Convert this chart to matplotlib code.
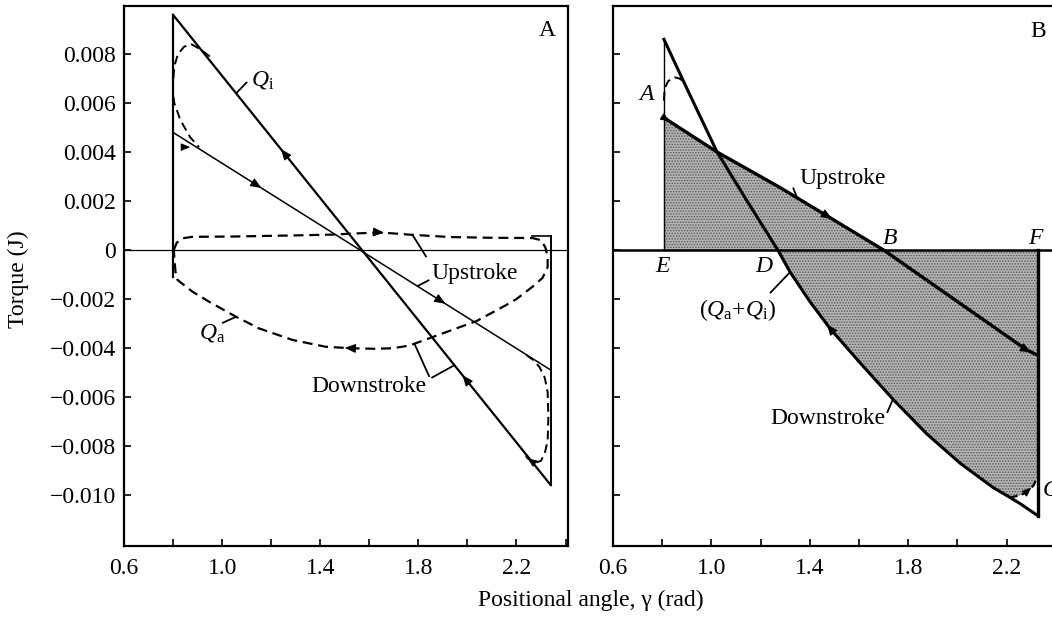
import numpy as np
import matplotlib
matplotlib.use('Agg')
import matplotlib.pyplot as plt
from matplotlib.ticker import FixedLocator, FixedFormatter

plt.rcParams['font.family'] = ['Liberation Serif', 'DejaVu Serif']
plt.rcParams['mathtext.fontset'] = 'custom'
plt.rcParams['mathtext.rm'] = 'Liberation Serif'
plt.rcParams['mathtext.it'] = 'Liberation Serif:italic'
plt.rcParams['hatch.linewidth'] = 0.7

# ---------------- data : panel A ----------------
qi_gamma = [0.80, 2.34]
qi_torque = [0.0096, -0.0096]
up_gamma = [0.80, 2.34]
up_torque = [0.0048, -0.0049]
qa_up_gamma = [0.803, 0.815, 0.84, 0.879, 1.04, 1.314, 1.449, 1.64, 1.776, 1.93, 2.10, 2.265, 2.30, 2.318, 2.327, 2.327]
qa_up_torque = [0.0, 0.0003, 0.00048, 0.00054, 0.00055, 0.0006, 0.00063, 0.00072, 0.00062, 0.00053, 0.0005, 0.00049, 0.0004, 0.0001, -0.0003, -0.0007]
qa_dn_gamma = [0.803, 0.806, 0.81, 0.818, 0.879, 0.947, 1.056, 1.151, 1.287, 1.423, 1.532, 1.62, 1.695, 1.763, 1.927, 2.037, 2.159, 2.20, 2.265, 2.306, 2.327]
qa_dn_torque = [0.0, -0.0004, -0.0009, -0.00122, -0.0017, -0.00211, -0.00272, -0.0032, -0.00367, -0.00395, -0.00401, -0.00403, -0.00401, -0.0039, -0.0033, -0.0029, -0.00224, -0.0020, -0.0015, -0.00114, -0.0007]
rev1_gamma = [0.95, 0.91, 0.875, 0.845, 0.82, 0.805, 0.80, 0.80, 0.805, 0.83, 0.87, 0.906]
rev1_torque = [0.0079, 0.0082, 0.0084, 0.0083, 0.0080, 0.0075, 0.0068, 0.0064, 0.0060, 0.0053, 0.0046, 0.0042]
rev2_gamma = [2.241, 2.27, 2.294, 2.315, 2.327, 2.33, 2.327, 2.315, 2.30, 2.273, 2.245, 2.224]
rev2_torque = [-0.00429, -0.0045, -0.00478, -0.0052, -0.0058, -0.0068, -0.0078, -0.0083, -0.0086, -0.0087, -0.0085, -0.00815]
left_bar_torque = [-0.0011, 0.0096]
right_bar_torque = [-0.0096, 0.00057]

# ---------------- data : panel B ----------------
dn_b_gamma = [0.807, 0.90, 1.023, 1.145, 1.27, 1.32, 1.40, 1.482, 1.604, 1.739, 1.875, 2.011, 2.146, 2.214, 2.255, 2.328]
dn_b_torque = [0.0086, 0.0066, 0.0040, 0.0020, 0.0, -0.0009, -0.0021, -0.0032, -0.0046, -0.0061, -0.0075, -0.0087, -0.0097, -0.0101, -0.01035, -0.01085]
up_b_gamma = [0.807, 1.023, 1.279, 1.70, 2.011, 2.282, 2.328]
up_b_torque = [0.0054, 0.0040, 0.00255, 0.0, -0.00218, -0.00408, -0.0043]
corner_gamma = [2.214, 2.26, 2.29, 2.31, 2.324]
corner_torque = [-0.0101, -0.0100, -0.0098, -0.0096, -0.0093]
loopB_gamma = [0.807, 0.81, 0.825, 0.85, 0.87, 0.885]
loopB_torque = [0.0061, 0.0066, 0.0069, 0.00705, 0.0070, 0.0069]

xticks = [0.6, 0.8, 1.0, 1.2, 1.4, 1.6, 1.8, 2.0, 2.2, 2.4]
xticklabels = ['0.6', '', '1.0', '', '1.4', '', '1.8', '', '2.2', '']
yticks = [-0.010, -0.008, -0.006, -0.004, -0.002, 0.0, 0.002, 0.004, 0.006, 0.008]
yticklabels = ['\u22120.010', '\u22120.008', '\u22120.006', '\u22120.004', '\u22120.002', '0',
               '0.002', '0.004', '0.006', '0.008']

W, H = 1052, 617
FS = 17
fig = plt.figure(figsize=(W / 100, H / 100), dpi=100)
bottom = 1 - 546 / H
height = (546 - 6) / H
axA = fig.add_axes([124 / W, bottom, (568 - 124) / W, height])
axB = fig.add_axes([613 / W, bottom, 442.8 / W, height])


def style(ax, labels):
    ax.set_ylim(-0.01208, 0.00996)
    ax.xaxis.set_major_locator(FixedLocator(xticks))
    ax.xaxis.set_major_formatter(FixedFormatter(xticklabels))
    ax.yaxis.set_major_locator(FixedLocator(yticks))
    if labels:
        ax.yaxis.set_major_formatter(FixedFormatter(yticklabels))
    else:
        ax.yaxis.set_major_formatter(FixedFormatter([''] * len(yticks)))
    ax.tick_params(direction='in', length=5, width=1.2, labelsize=FS)
    ax.tick_params(axis='x', pad=9)
    ax.tick_params(axis='y', pad=6)
    for s in ax.spines.values():
        s.set_linewidth(1.6)


def arrow(ax, xs, ys, g, reverse=False, d=0.02, ms=11):
    y1 = np.interp(g, xs, ys)
    if reverse:
        p0 = (g + d, np.interp(g + d, xs, ys))
    else:
        p0 = (g - d, np.interp(g - d, xs, ys))
    ax.annotate('', xy=(g, y1), xytext=p0,
                arrowprops=dict(arrowstyle='-|>,head_length=0.6,head_width=0.25',
                                mutation_scale=ms, color='k', lw=0.8, shrinkA=0, shrinkB=0),
                zorder=4)


def leader(ax, p0, p1, lw=1.3):
    ax.plot([p0[0], p1[0]], [p0[1], p1[1]], color='k', lw=lw, solid_capstyle='butt', zorder=4)


# ================= Panel A =================
style(axA, True)
axA.set_xlim(0.6, 2.41)
axA.axhline(0, color='k', lw=0.9)
axA.plot(qi_gamma, qi_torque, color='k', lw=1.6)
axA.plot(up_gamma, up_torque, color='k', lw=1.1)
axA.plot([qi_gamma[0], qi_gamma[0]], left_bar_torque, color='k', lw=1.6)
axA.plot([qi_gamma[1], qi_gamma[1]], right_bar_torque, color='k', lw=1.4)
axA.plot([qa_up_gamma[-5], qi_gamma[1]], [right_bar_torque[1], right_bar_torque[1]], color='k', lw=1.2)
qa_x = list(qa_up_gamma) + list(qa_dn_gamma[::-1])
qa_y = list(qa_up_torque) + list(qa_dn_torque[::-1])
axA.plot(qa_x, qa_y, color='k', lw=1.6, dashes=(4.5, 2.6))
axA.plot(rev1_gamma, rev1_torque, color='k', lw=1.4, dashes=(4.5, 2.6))
axA.plot(rev2_gamma, rev2_torque, color='k', lw=1.4, dashes=(4.5, 2.6))

arrow(axA, up_gamma, up_torque, 1.16)
arrow(axA, up_gamma, up_torque, 1.91)
arrow(axA, qi_gamma, qi_torque, 1.24, reverse=True)
arrow(axA, qi_gamma, qi_torque, 1.98, reverse=True)
arrow(axA, qa_up_gamma, qa_up_torque, 1.66)
arrow(axA, qa_dn_gamma, qa_dn_torque, 1.50, reverse=True)
arrow(axA, rev1_gamma[::-1], rev1_torque[::-1], 0.87, d=0.015, ms=9)
arrow(axA, rev2_gamma[-3:][::-1], rev2_torque[-3:][::-1], 2.245, reverse=True, d=0.015, ms=9)

axA.text(2.327, 0.00898, 'A', fontsize=FS, ha='center', va='center')
axA.text(1.118, 0.00694, r'$Q_{\mathrm{i}}$', fontsize=FS, ha='left', va='center')
leader(axA, (1.102, 0.00686), (1.057, float(np.interp(1.057, qi_gamma, qi_torque))))
axA.text(0.906, -0.00339, r'$Q_{\mathrm{a}}$', fontsize=FS, ha='left', va='center')
leader(axA, (1.0, -0.00298), (1.057, float(np.interp(1.057, qa_dn_gamma, qa_dn_torque))))
axA.text(2.029, -0.00094, 'Upstroke', fontsize=FS, ha='center', va='center')
leader(axA, (1.833, -0.00029), (1.776, float(np.interp(1.776, qa_up_gamma, qa_up_torque))))
leader(axA, (1.845, -0.00122), (1.796, float(np.interp(1.796, up_gamma, up_torque))))
axA.text(1.60, -0.00559, 'Downstroke', fontsize=FS, ha='center', va='center')
leader(axA, (1.845, -0.00518), (1.784, float(np.interp(1.784, qa_dn_gamma, qa_dn_torque))))
leader(axA, (1.853, -0.00522), (1.947, float(np.interp(1.947, qi_gamma, qi_torque))))

# ================= Panel B =================
style(axB, False)
axB.set_xlim(0.6, 2.4)
axB.spines['right'].set_visible(False)

ug = np.array(up_b_gamma)
ut = np.array(up_b_torque)
g_b = float(np.interp(0, ut[::-1], ug[::-1]))
m = ug < g_b
poly_up_x = [ug[0]] + list(ug[m]) + [g_b, ug[0]]
poly_up_y = [0] + list(ut[m]) + [0, 0]
fill_kw = dict(facecolor='#b4b4b4', edgecolor='#555555', hatch='......', linewidth=0, zorder=1)
axB.fill(poly_up_x, poly_up_y, **fill_kw)
dg = np.array(dn_b_gamma)
dt = np.array(dn_b_torque)
g_d = float(np.interp(0, dt[::-1], dg[::-1]))
m2 = (dg > g_d) & (dg < corner_gamma[0])
poly_dn_x = [g_d, corner_gamma[-1]] + list(corner_gamma[::-1]) + list(dg[m2][::-1]) + [g_d]
poly_dn_y = [0, 0] + list(corner_torque[::-1]) + list(dt[m2][::-1]) + [0]
axB.fill(poly_dn_x, poly_dn_y, **fill_kw)

axB.axhline(0, color='k', lw=1.8, zorder=3)
axB.plot([dn_b_gamma[0], dn_b_gamma[0]], [0, dn_b_torque[0]], color='k', lw=1.0, zorder=3)
axB.plot([dn_b_gamma[-1], dn_b_gamma[-1]], [0, dn_b_torque[-1]], color='k', lw=2.4, zorder=3)
axB.plot(dn_b_gamma, dn_b_torque, color='k', lw=2.2, zorder=3)
axB.plot(up_b_gamma, up_b_torque, color='k', lw=2.4, zorder=3)
axB.plot(loopB_gamma, loopB_torque, color='k', lw=1.4, dashes=(4.5, 2.6), zorder=3)
axB.plot(corner_gamma, corner_torque, color='k', lw=1.6, dashes=(3.5, 2.0), zorder=3)

arrow(axB, up_b_gamma, up_b_torque, 1.49)
arrow(axB, up_b_gamma, up_b_torque, 2.30)
arrow(axB, dn_b_gamma, dn_b_torque, 1.47, reverse=True)
arrow(axB, corner_gamma, corner_torque, 2.30, d=0.015, ms=9)
arrow(axB, up_b_gamma, up_b_torque, 0.83, d=0.015, ms=9)

axB.text(2.328, 0.0089, 'B', fontsize=FS, ha='center', va='center')
axB.text(0.738, 0.00633, 'A', fontsize=FS, ha='center', va='center', style='italic')
axB.text(0.803, -0.00069, 'E', fontsize=FS, ha='center', va='center', style='italic')
axB.text(1.214, -0.00069, 'D', fontsize=FS, ha='center', va='center', style='italic')
axB.text(1.726, 0.00049, 'B', fontsize=FS, ha='center', va='center', style='italic')
axB.text(2.315, 0.00049, 'F', fontsize=FS, ha='center', va='center', style='italic')
axB.text(2.348, -0.0098, 'G', fontsize=FS, ha='left', va='center', style='italic')
axB.text(1.535, 0.0029, 'Upstroke', fontsize=FS, ha='center', va='center')
leader(axB, (1.332, 0.00255), (1.348, float(np.interp(1.348, up_b_gamma, up_b_torque))))
axB.text(1.108, -0.00245, r'$(Q_{\mathrm{a}}$+$Q_{\mathrm{i}})$', fontsize=FS, ha='center', va='center')
leader(axB, (1.238, -0.00176), (1.32, float(np.interp(1.32, dn_b_gamma, dn_b_torque))))
axB.text(1.474, -0.00686, 'Downstroke', fontsize=FS, ha='center', va='center')
leader(axB, (1.714, -0.00665), (1.738, float(np.interp(1.738, dn_b_gamma, dn_b_torque))))

fig.text(18 / W, 1 - 279 / H, 'Torque (J)', rotation=90, fontsize=FS, ha='center', va='center')
fig.text(591 / W, 1 - 600 / H, 'Positional angle, \u03b3 (rad)', fontsize=FS, ha='center', va='center')

fig.savefig('out.png', dpi=100)
